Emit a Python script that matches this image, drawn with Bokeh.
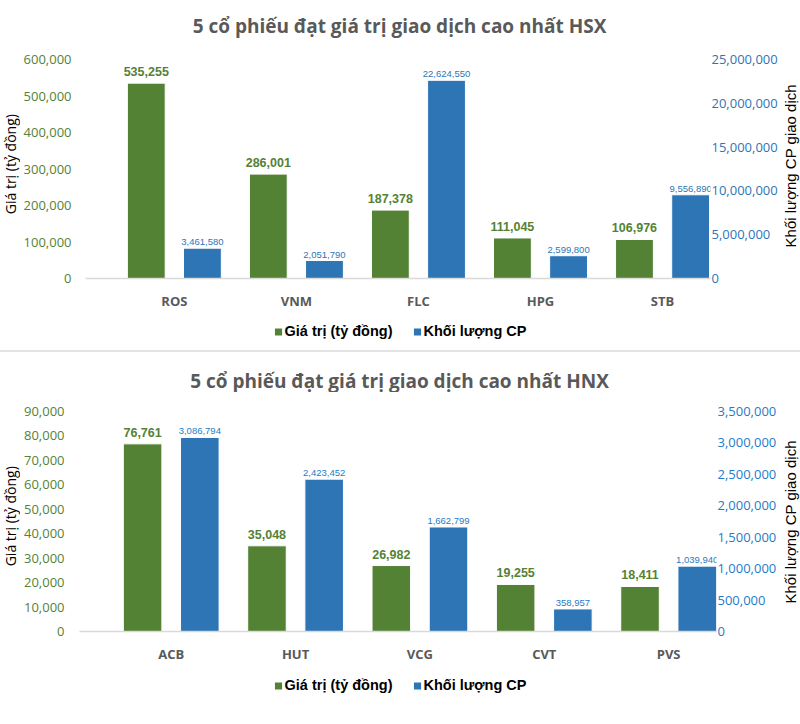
import math
from bokeh.plotting import figure
from bokeh.models import (Range1d, LinearAxis, ColumnDataSource, Legend, LegendItem,
                          NumeralTickFormatter, FixedTicker, Div, LabelSet)
from bokeh.layouts import column, row
from bokeh.core.properties import value
from bokeh.embed import file_html
from bokeh.resources import INLINE

# ---- data ----
hsx_title = "5 cổ phiếu đạt giá trị giao dịch cao nhất HSX"
hsx_codes = ["ROS", "VNM", "FLC", "HPG", "STB"]
hsx_value = [535255, 286001, 187378, 111045, 106976]
hsx_volume = [3461580, 2051790, 22624550, 2599800, 9556890]
hsx_left_ticks = [0, 100000, 200000, 300000, 400000, 500000, 600000]
hsx_right_ticks = [0, 5000000, 10000000, 15000000, 20000000, 25000000]

hnx_title = "5 cổ phiếu đạt giá trị giao dịch cao nhất HNX"
hnx_codes = ["ACB", "HUT", "VCG", "CVT", "PVS"]
hnx_value = [76761, 35048, 26982, 19255, 18411]
hnx_volume = [3086794, 2423452, 1662799, 358957, 1039940]
hnx_left_ticks = [0, 10000, 20000, 30000, 40000, 50000, 60000, 70000, 80000, 90000]
hnx_right_ticks = [0, 500000, 1000000, 1500000, 2000000, 2500000, 3000000, 3500000]

legend_value = "Giá trị (tỷ đồng)"
legend_volume = "Khối lượng CP"
left_label = "Giá trị (tỷ đồng)"
right_label = "Khối lượng CP giao dịch"

GREEN = "#548235"
BLUE = "#2E75B6"
GRAY = "#595959"
W = 800
SIDE = 20
CW = W - 2 * SIDE


def text_fig(w, h, txt, x, y, angle, font, size, style, color):
    f = figure(width=w, height=h, output_backend="svg", toolbar_location=None,
               x_range=Range1d(0, w), y_range=Range1d(0, h),
               x_axis_type=None, y_axis_type=None, min_border=0)
    f.outline_line_color = None
    f.text(x=[x], y=[y], text=[txt], angle=angle, text_align="center",
           text_baseline="middle", text_font=value(font), text_font_size=size,
           text_font_style=style, text_color=color)
    return f


def make_chart(codes, vals, vols, lticks, rticks, height, x_lo, x_hi,
               b_left, b_right, b_top, b_bottom, blue_txt, l_standoff):
    n = len(codes)
    idx = list(range(n))
    src = ColumnDataSource(dict(
        xg=[i - 0.23 for i in idx], xb=[i + 0.23 for i in idx],
        val=vals, vol=vols,
        val_txt=[f"{v:,}" for v in vals], vol_txt=[f"{v:,}" for v in vols],
    ))
    p = figure(width=CW, height=height, output_backend="svg", toolbar_location=None,
               x_range=Range1d(x_lo, x_hi), y_range=Range1d(0, lticks[-1]),
               min_border_left=b_left, min_border_right=b_right,
               min_border_top=b_top, min_border_bottom=b_bottom)
    p.extra_y_ranges = {"vol": Range1d(0, rticks[-1])}
    p.outline_line_color = None
    p.xgrid.visible = False
    p.ygrid.visible = False

    p.vbar(x="xg", top="val", width=0.31, source=src, fill_color=GREEN,
           line_color="white", line_width=1)
    p.vbar(x="xb", top="vol", width=0.31, source=src, fill_color=BLUE,
           line_color="white", line_width=1, y_range_name="vol")

    p.add_layout(LabelSet(x="xg", y="val", text="val_txt", source=src, y_offset=7,
                          text_align="center", text_baseline="bottom",
                          text_font=value("Liberation Sans"), text_font_style="bold",
                          text_font_size="12.5px", text_color=GREEN))
    p.add_layout(LabelSet(x="xb", y="vol", text="vol_txt", source=src, y_offset=3,
                          y_range_name="vol",
                          text_align="center", text_baseline="bottom",
                          text_font=value("Liberation Sans"),
                          text_font_size="9.5px", text_color=blue_txt))

    xa = p.xaxis[0]
    xa.ticker = FixedTicker(ticks=idx)
    xa.major_label_overrides = {i: c for i, c in enumerate(codes)}
    xa.axis_line_color = "#D9D9D9"
    xa.axis_line_width = 1.5
    xa.major_tick_line_color = None
    xa.minor_tick_line_color = None
    xa.major_tick_in = 0
    xa.major_tick_out = 0
    xa.minor_tick_out = 0
    xa.major_label_standoff = 13
    xa.major_label_text_font = "Open Sans"
    xa.major_label_text_font_style = "bold"
    xa.major_label_text_font_size = "13px"
    xa.major_label_text_color = GRAY

    ya = p.yaxis[0]
    ya.ticker = FixedTicker(ticks=lticks)
    ya.formatter = NumeralTickFormatter(format="0,0")
    ya.axis_line_color = None
    ya.major_tick_line_color = None
    ya.minor_tick_line_color = None
    ya.major_tick_in = 0
    ya.major_tick_out = 0
    ya.minor_tick_out = 0
    ya.major_label_standoff = l_standoff
    ya.major_label_text_font = "Open Sans"
    ya.major_label_text_font_size = "13px"
    ya.major_label_text_color = GREEN

    ra = LinearAxis(y_range_name="vol", ticker=FixedTicker(ticks=rticks),
                    formatter=NumeralTickFormatter(format="0,0"))
    ra.axis_line_color = None
    ra.major_tick_line_color = None
    ra.minor_tick_line_color = None
    ra.major_tick_in = 0
    ra.major_tick_out = 0
    ra.minor_tick_out = 0
    ra.major_label_standoff = 1
    ra.major_label_text_font = "Open Sans"
    ra.major_label_text_font_size = "13px"
    ra.major_label_text_color = blue_txt
    p.add_layout(ra, "right")
    return p


def make_legend(height):
    lp = figure(width=W, height=height, output_backend="svg", toolbar_location=None,
                x_range=Range1d(0, 1), y_range=Range1d(0, 1),
                x_axis_type=None, y_axis_type=None, min_border=0)
    lp.outline_line_color = None
    # zero-size swatch renderers: only their legend glyphs are visible
    g = lp.vbar(x=[0.5], top=[0], bottom=[0], width=0, fill_color=GREEN, line_color=None)
    b = lp.vbar(x=[0.5], top=[0], bottom=[0], width=0, fill_color=BLUE, line_color=None)
    legend = Legend(items=[LegendItem(label=legend_value, renderers=[g]),
                           LegendItem(label=legend_volume, renderers=[b])],
                    orientation="horizontal", location="center")
    legend.label_text_font = "Liberation Sans"
    legend.label_text_font_style = "bold"
    legend.label_text_font_size = "14.5px"
    legend.label_text_color = "black"
    legend.glyph_width = 9
    legend.glyph_height = 9
    legend.label_standoff = 2
    legend.spacing = 20
    legend.border_line_color = None
    legend.background_fill_color = None
    legend.margin = 0
    legend.padding = 0
    lp.add_layout(legend)
    return lp


def block(title, codes, vals, vols, lticks, rticks, title_h, title_y, chart_h,
          x_lo, x_hi, b_left, b_right, blue_txt, l_standoff, ll_y, rl_y, leg_h):
    t = text_fig(W, title_h, title, 399, title_y, 0, "Open Sans", "19px", "bold", GRAY)
    c = make_chart(codes, vals, vols, lticks, rticks, chart_h, x_lo, x_hi,
                   b_left, b_right, 19, 32, blue_txt, l_standoff)
    ll = text_fig(SIDE, chart_h, left_label, 10, ll_y, math.pi / 2,
                  "Open Sans", "14px", "normal", "black")
    rl = text_fig(SIDE, chart_h, right_label, 10, rl_y, math.pi / 2,
                  "Liberation Sans", "15px", "normal", "black")
    lg = make_legend(leg_h)
    return [t, row(ll, c, rl, spacing=0), lg]


top = block(hsx_title, hsx_codes, hsx_value, hsx_volume, hsx_left_ticks, hsx_right_ticks,
            40, 15, 272, -0.728, 4.393, 64, 70, BLUE, 14, 142, 140, 38)
sep = Div(width=W, height=2, margin=0, styles={"background-color": "#E3E3E3"})
bottom = block(hnx_title, hnx_codes, hnx_value, hnx_volume, hnx_left_ticks, hnx_right_ticks,
               40, 12, 273, -0.7375, 4.385, 57, 64, "#1F7BC9", 15, 143, 136, 40)

layout = column(*top, sep, *bottom, spacing=0)
open("out.html", "w").write(file_html(layout, INLINE))
